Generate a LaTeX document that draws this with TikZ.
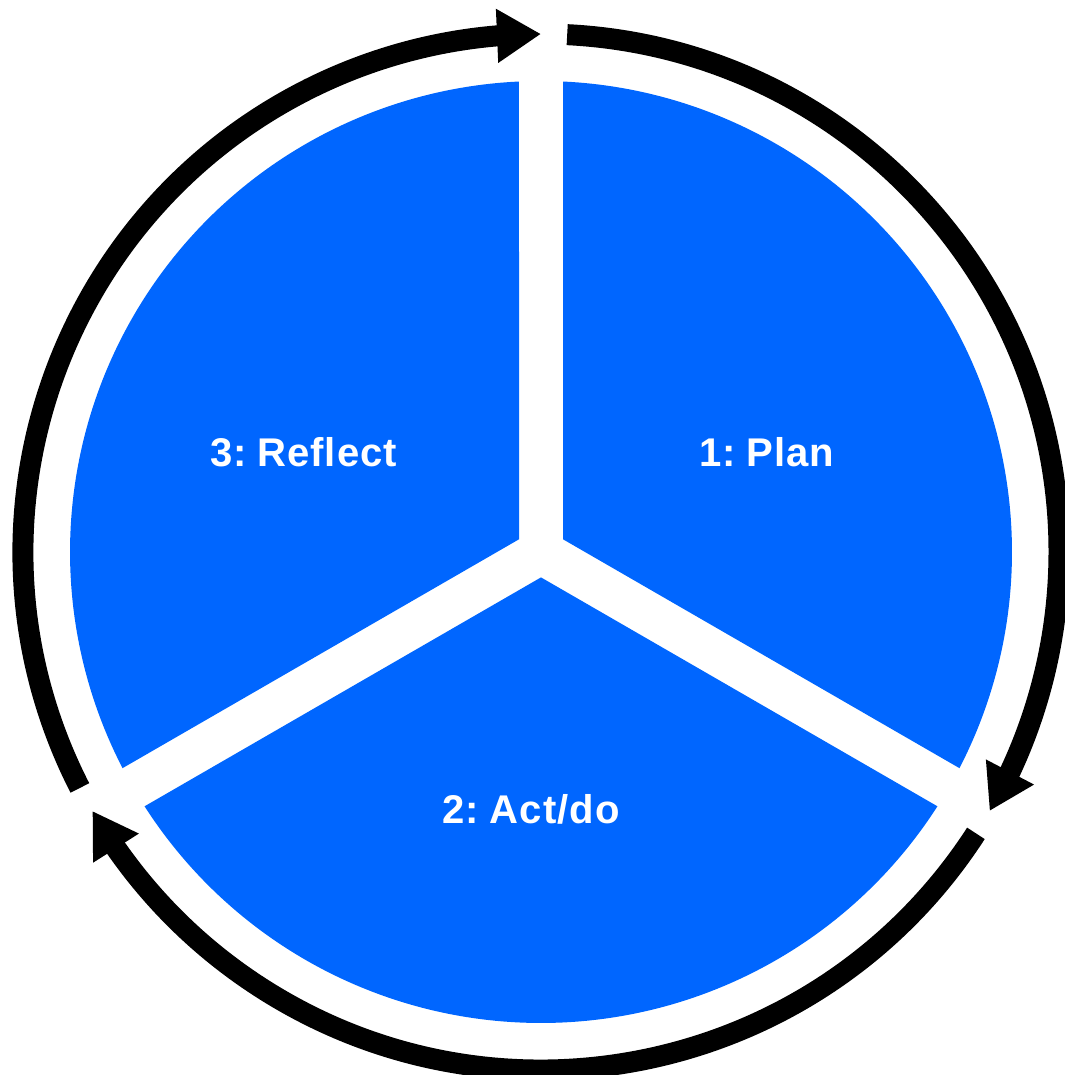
\documentclass[tikz,border=0pt]{standalone}
\usepackage{fontspec}
\setmainfont{Liberation Sans}
\newfontfamily\stagefont[WordSpace=0.55,LetterSpace=2.5]{Liberation Sans}
\usetikzlibrary{arrows.meta,bending}
\definecolor{cycleblue}{RGB}{0,102,255}

\begin{document}
\begin{tikzpicture}[scale=1,
    stage/.style={text=white,inner sep=0pt,font=\stagefont\bfseries\fontsize{11.4}{13}\selectfont},
    loop/.style={line width=0.21cm,-{Triangle[length=0.44cm,width=0.51cm,flex]}}]
            \useasboundingbox (-5.41,-5.23) rectangle (5.23,5.52);
            % three blue pieces with a white gap between them
            \foreach \a in {0,120,240}
                \fill[cycleblue] ({\a+30}:0.254) -- ({\a+87.32}:4.71)
                    arc[start angle=\a+87.32,end angle=\a-27.32,radius=4.71] -- cycle;
            \node (plan) at (2.26,1.00) [stage] {1: Plan};
            \node (act) at (-0.10,-2.57) [stage] {2: Act/do};
            \node (reflect) at (-2.375,1.00) [stage] {3: Reflect};
            % arrows round the ring, clockwise
            \foreach \g in {90,-30,-150}
                \draw[loop] ({\g-2.9}:5.18) arc[start angle=\g-2.9,end angle=\g-120,radius=5.18];
        \end{tikzpicture}
\end{document}
